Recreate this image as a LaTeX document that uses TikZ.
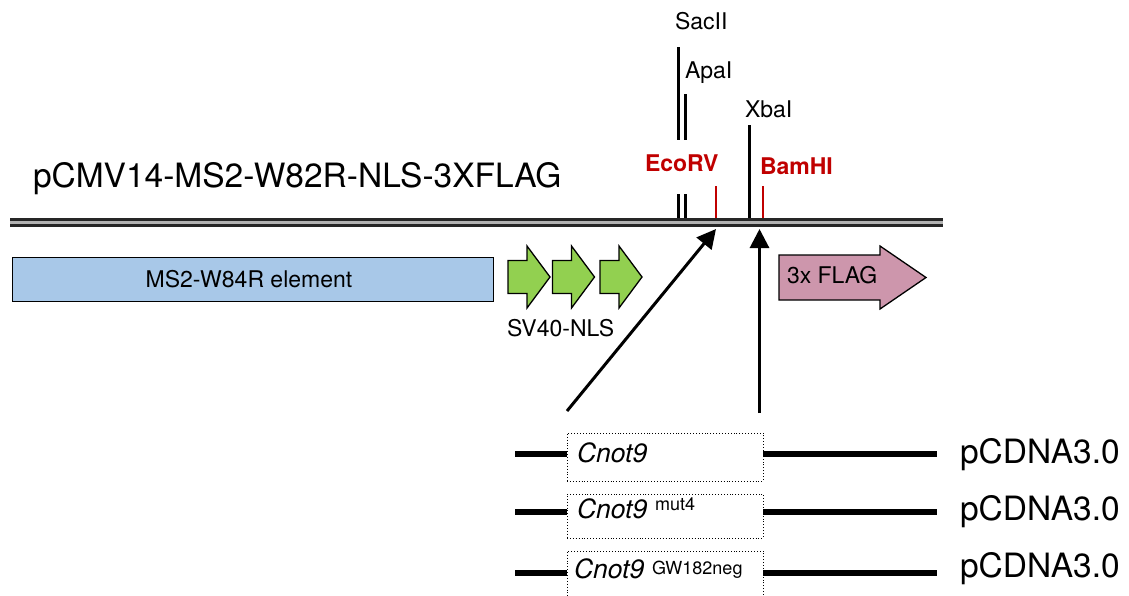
\documentclass[tikz,border=0pt]{standalone}
\usepackage{fontspec}
\setmainfont{TeX Gyre Heros}
\usetikzlibrary{arrows.meta}
\definecolor{sitered}{RGB}{192,0,0}
\definecolor{msblue}{RGB}{168,200,232}
\definecolor{nlsgreen}{RGB}{146,208,80}
\definecolor{flagpink}{RGB}{205,150,172}
\begin{document}
\begin{tikzpicture}[x=1pt,y=-1pt,
  txt/.style={inner sep=0pt, outer sep=0pt, anchor=base west},
  lbl/.style={txt, font=\fontsize{23}{27}\selectfont},
  big/.style={txt, font=\fontsize{33.5}{38}\selectfont},
  cnot/.style={txt, font=\fontsize{26.5}{30}\selectfont\itshape},
  supr/.style={txt, font=\fontsize{18}{21}\selectfont},
  redlbl/.style={lbl, text=sitered, font=\fontsize{23}{27}\selectfont\bfseries},
  sitek/.style={line width=3pt, black},
  siter/.style={line width=2.6pt, sitered},
  ptr/.style={line width=3pt, -{Triangle[width=19pt,length=19pt]}},
  vline/.style={line width=6pt},
  cbox/.style={draw, dotted, line width=0.9pt, minimum width=196pt, inner sep=0pt, outer sep=0pt},
  feat/.style={draw, line width=1.3pt, line join=miter}
]
\useasboundingbox (0,0) rectangle (1129,595);
\clip (0,0) rectangle (1129,595);

% title
\node[big] (title) at (33,187) {pCMV14-MS2-W82R-NLS-3XFLAG};

% restriction sites (drawn before backbone)
\draw[sitek] (678,47) -- (678,140);
\draw[sitek] (678,194) -- (678,220);
\draw[sitek] (685,94) -- (685,140);
\draw[sitek] (685,194) -- (685,220);
\draw[siter] (716,186) -- (716,220);
\draw[sitek] (749,125) -- (749,220);
\draw[siter] (763,186) -- (763,220);

\node[lbl] (sacii) at (675,29) {SacII};
\node[lbl] (apai) at (685,78) {ApaI};
\node[lbl] (xbai) at (745,117) {XbaI};
\node[redlbl] (ecorv) at (645,171) {EcoRV};
\node[redlbl] (bamhi) at (760,174) {BamHI};

% backbone
\coordinate (bbL) at (10,222.5);
\coordinate (bbR) at (943,222.5);
\draw[line width=8.5pt, black!85] (bbL) -- (bbR);
\draw[line width=2.2pt, black!30] (bbL) -- (bbR);

% MS2 element
\node[feat, fill=msblue, minimum width=481pt, minimum height=44pt, anchor=north west, inner sep=0pt] (ms2) at (12,257) {};
\node[lbl, anchor=base] (ms2t) at (249,287) {MS2-W84R element};

% SV40-NLS arrows
\foreach \x in {508,552.5,600}{
  \draw[feat, fill=nlsgreen] (\x,260.5) -- (\x+19,260.5) -- (\x+19,246) -- (\x+42,277) -- (\x+19,308) -- (\x+19,293.5) -- (\x,293.5) -- cycle;
}
\node[lbl] (nls) at (507,336) {SV40-NLS};

% 3x FLAG arrow
\draw[feat, fill=flagpink] (779,255) -- (880,255) -- (880,246) -- (926,277.5) -- (880,309) -- (880,300) -- (779,300) -- cycle;
\node[lbl] (flag) at (787,283) {3x FLAG};

% insertion arrows
\coordinate (t1) at (567,411);
\coordinate (h1) at (716,229);
\coordinate (t2) at (759.5,413);
\coordinate (h2) at (759.5,229);
\draw[ptr] (t1) -- (h1);
\draw[ptr] (t2) -- (h2);

% constructs
\node[cbox, minimum height=48pt] (b1) at (665,457) {};
\node[cbox, minimum height=44pt] (b2) at (665,516) {};
\node[cbox, minimum height=48pt] (b3) at (665,575) {};

\coordinate (l1) at (515,454);
\coordinate (r1) at (937,454);
\coordinate (l2) at (515,512);
\coordinate (r2) at (937,512);
\coordinate (l3) at (515,573);
\coordinate (r3) at (937,573);
\draw[vline] (l1) -- (l1 -| b1.west);
\draw[vline] (b1.east |- r1) -- (r1);
\draw[vline] (l2) -- (l2 -| b2.west);
\draw[vline] (b2.east |- r2) -- (r2);
\draw[vline] (l3) -- (l3 -| b3.west);
\draw[vline] (b3.east |- r3) -- (r3);

\node[cnot] (c1) at (577,462.7) {Cnot9};
\node[cnot] (c2) at (577,518.3) {Cnot9};
\node[supr] (s2) at (655,510.7) {mut4};
\node[cnot] (c3) at (574,578) {Cnot9};
\node[supr] (s3) at (652,574) {GW182neg};

\node[big] (p1) at (960,463.3) {pCDNA3.0};
\node[big] (p2) at (960,520) {pCDNA3.0};
\node[big] (p3) at (960,577) {pCDNA3.0};
\end{tikzpicture}
\end{document}
